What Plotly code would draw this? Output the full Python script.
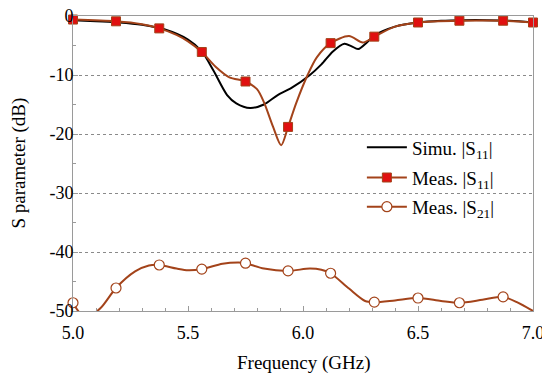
import plotly.graph_objects as go

# Simulated |S11|
sim_f = [5.0, 5.1, 5.2, 5.3, 5.4, 5.5, 5.56, 5.61, 5.67, 5.71, 5.77, 5.83, 5.89, 5.95, 6.03, 6.08, 6.13, 6.18, 6.21, 6.24, 6.28, 6.31, 6.4, 6.5, 6.6, 6.7, 6.8, 6.9, 7.0]
sim_s11 = [-0.7, -0.9, -1.1, -1.5, -2.3, -4.0, -6.0, -9.2, -13.4, -14.8, -15.6, -15.0, -13.4, -12.2, -10.0, -8.2, -6.0, -4.7, -5.1, -5.6, -4.4, -3.3, -1.8, -1.1, -0.8, -0.7, -0.7, -0.8, -1.1]

# Measured |S11| curve
m11_f = [5.0, 5.187, 5.3, 5.375, 5.45, 5.5, 5.56, 5.62, 5.68, 5.75, 5.8, 5.83, 5.87, 5.905, 5.935, 5.97, 6.02, 6.06, 6.12, 6.2, 6.26, 6.31, 6.4, 6.5, 6.68, 6.87, 7.0]
m11_s = [-0.6, -0.9, -1.4, -2.1, -3.2, -4.3, -6.1, -8.6, -10.4, -11.1, -12.4, -14.6, -18.8, -21.9, -18.8, -14.8, -10.0, -7.0, -4.6, -3.4, -4.5, -3.5, -1.8, -1.1, -0.8, -0.8, -1.1]

# Measured |S21| curve
m21_f = [5.0, 5.03, 5.07, 5.12, 5.187, 5.27, 5.33, 5.375, 5.45, 5.5, 5.56, 5.65, 5.72, 5.75, 5.83, 5.935, 6.03, 6.08, 6.12, 6.2, 6.27, 6.31, 6.4, 6.5, 6.6, 6.68, 6.78, 6.87, 6.93, 7.0]
m21_s = [-48.6, -50.3, -50.8, -49.5, -46.1, -43.3, -42.3, -42.2, -42.8, -43.1, -42.9, -42.0, -41.8, -41.9, -42.8, -43.2, -42.8, -43.0, -43.6, -46.2, -48.3, -48.5, -48.2, -47.8, -48.3, -48.6, -48.1, -47.6, -48.5, -50.0]

# Marker positions
mk11_f = [5.0, 5.187, 5.375, 5.56, 5.75, 5.935, 6.12, 6.31, 6.5, 6.68, 6.87, 7.0]
mk11_s = [-0.6, -0.9, -2.1, -6.1, -11.1, -18.8, -4.6, -3.5, -1.1, -0.8, -0.8, -1.1]
mk21_f = [5.0, 5.187, 5.375, 5.56, 5.75, 5.935, 6.12, 6.31, 6.5, 6.68, 6.87]
mk21_s = [-48.6, -46.1, -42.2, -42.9, -41.9, -43.2, -43.6, -48.5, -47.8, -48.6, -47.6]

x_ticks = [5.0, 5.5, 6.0, 6.5, 7.0]
y_ticks = [0, -10, -20, -30, -40, -50]

BROWN = "#a3431a"
RED = "#e01010"
FONT = "Liberation Serif, Times New Roman, serif"

fig = go.Figure()

fig.add_trace(go.Scatter(x=sim_f, y=sim_s11, mode="lines", line=dict(color="black", width=2, shape="spline", smoothing=0.8), showlegend=False))
fig.add_trace(go.Scatter(x=m11_f, y=m11_s, mode="lines", line=dict(color=BROWN, width=2, shape="spline", smoothing=0.8), showlegend=False))
fig.add_trace(go.Scatter(x=mk11_f, y=mk11_s, mode="markers", marker=dict(symbol="square", size=9, color=RED, line=dict(color=BROWN, width=1)), showlegend=False, cliponaxis=False))
fig.add_trace(go.Scatter(x=m21_f, y=m21_s, mode="lines", line=dict(color=BROWN, width=2, shape="spline", smoothing=0.8), showlegend=False))
fig.add_trace(go.Scatter(x=mk21_f, y=mk21_s, mode="markers", marker=dict(symbol="circle", size=10, color="white", line=dict(color=BROWN, width=1.2)), showlegend=False, cliponaxis=False))

# legend entries (one legend per row for exact placement)
fig.add_trace(go.Scatter(x=[None], y=[None], mode="lines", line=dict(color="black", width=2), name="Simu. |S<sub>11</sub>|", legend="legend"))
fig.add_trace(go.Scatter(x=[None], y=[None], mode="lines+markers", line=dict(color=BROWN, width=2), marker=dict(symbol="square", size=9, color=RED, line=dict(color=BROWN, width=1)), name="Meas. |S<sub>11</sub>|", legend="legend2"))
fig.add_trace(go.Scatter(x=[None], y=[None], mode="lines+markers", line=dict(color=BROWN, width=2), marker=dict(symbol="circle", size=10, color="white", line=dict(color=BROWN, width=1.2)), name="Meas. |S<sub>21</sub>|", legend="legend3"))

axis_common = dict(showline=True, linecolor="#9a9a9a", linewidth=1, mirror=True, ticks="inside", ticklen=5, tickcolor="#9a9a9a", zeroline=False,
                   tickfont=dict(family=FONT, size=18, color="black"), automargin=False, ticklabeloverflow="allow")

leg_common = dict(x=0.628, xanchor="left", yanchor="middle", bgcolor="rgba(255,255,255,0)",
                  font=dict(family=FONT, size=19), itemwidth=40)

fig.update_layout(
    width=542, height=369,
    margin=dict(l=65, r=17, t=8, b=66),
    plot_bgcolor="white", paper_bgcolor="white",
    font=dict(family=FONT, size=18, color="black"),
    xaxis=dict(range=[5.0, 7.0], tickvals=x_ticks, ticktext=[f"{v:.1f}" for v in x_ticks], showgrid=False, ticklabelstandoff=5,
               minor=dict(dtick=0.1, ticks="inside", ticklen=3, tickcolor="#9a9a9a", showgrid=False), **axis_common),
    yaxis=dict(range=[-50, 0], tickvals=y_ticks, ticktext=[str(v) for v in y_ticks], showgrid=True, gridcolor="#8a8a8a", griddash="dot", gridwidth=1, ticklabelstandoff=-5,
               minor=dict(dtick=5, ticks="inside", ticklen=3, tickcolor="#9a9a9a", showgrid=False), **axis_common),
    legend=dict(y=0.555, **leg_common),
    legend2=dict(y=0.452, **leg_common),
    legend3=dict(y=0.353, **leg_common),
    annotations=[
        dict(text="Frequency (GHz)", xref="paper", yref="paper", x=0.5, y=0, yshift=-52, showarrow=False,
             xanchor="center", yanchor="middle", font=dict(family=FONT, size=19)),
        dict(text="S parameter (dB)", xref="paper", yref="paper", x=0, y=0.5, xshift=-55, showarrow=False,
             xanchor="center", yanchor="middle", textangle=-90, font=dict(family=FONT, size=19)),
    ],
)

fig.write_html("out.html")
